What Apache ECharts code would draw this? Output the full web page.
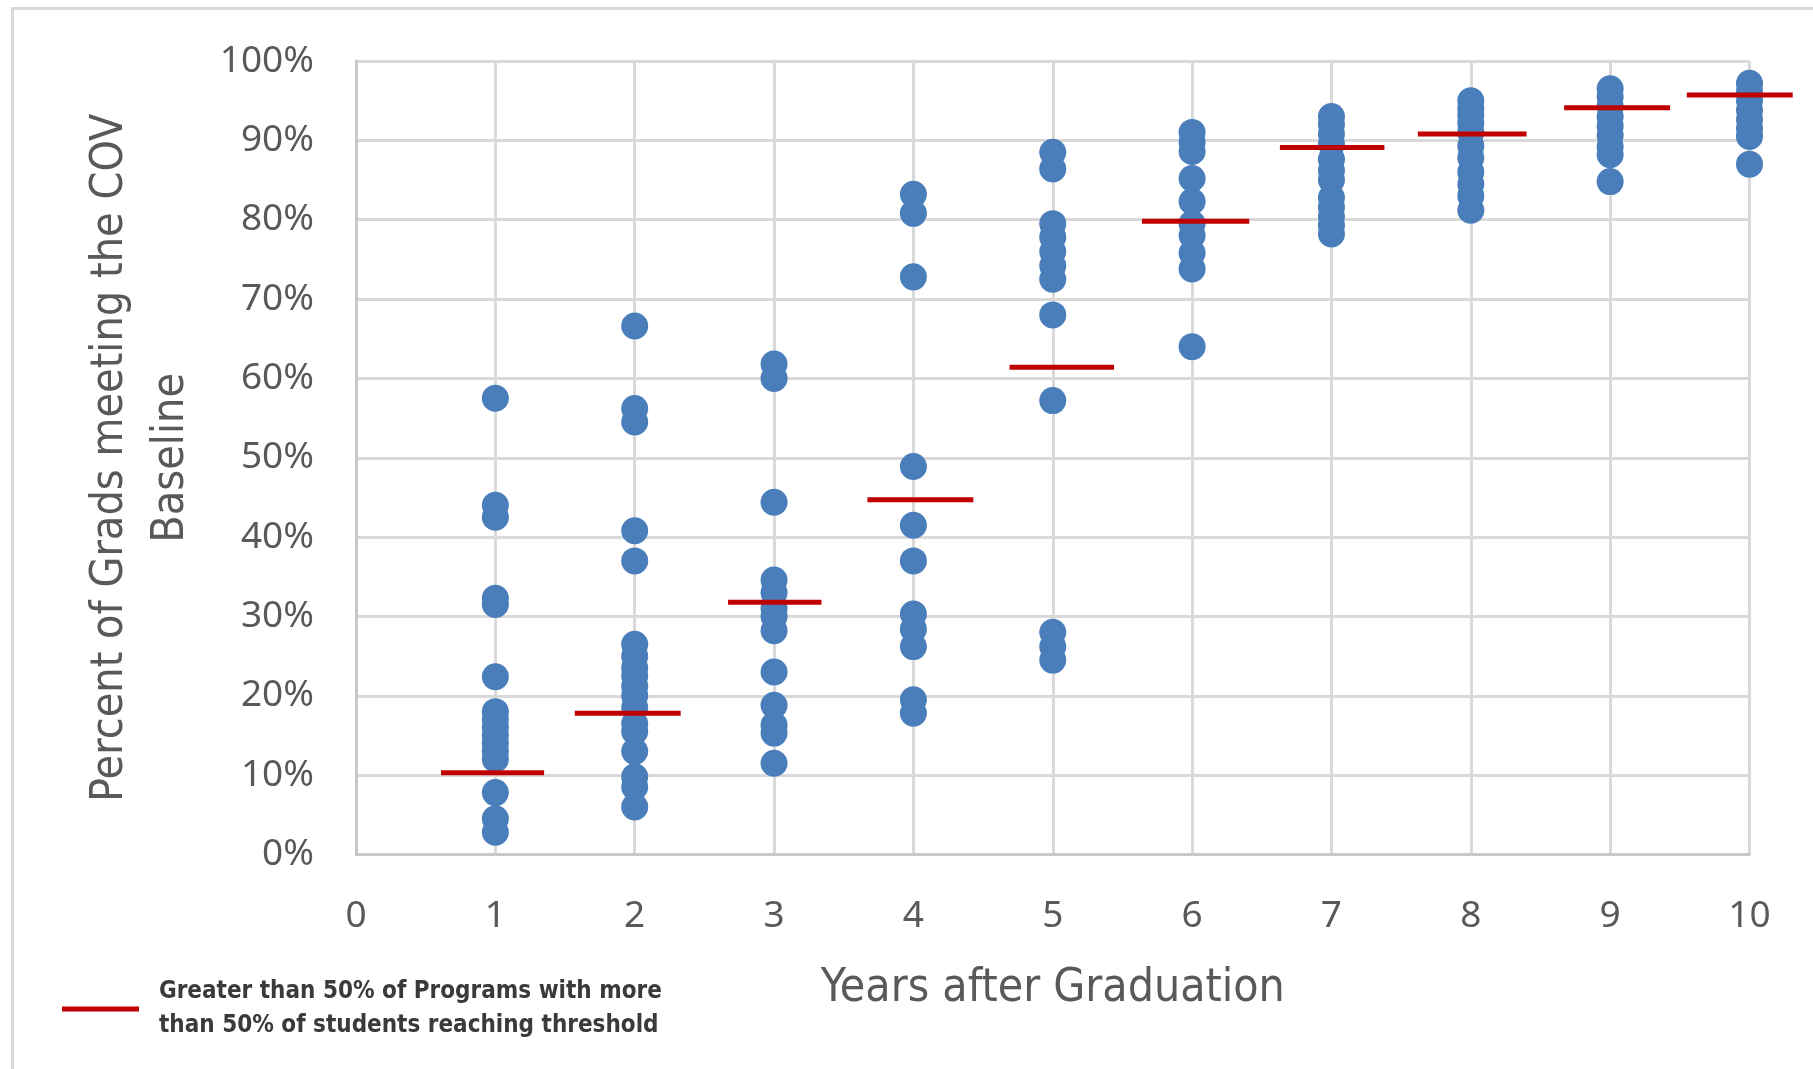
<!DOCTYPE html>
<html>
<head>
<meta charset="utf-8">
<script src="https://cdn.jsdelivr.net/npm/echarts@6/dist/echarts.min.js"></script>
<style>
html,body{margin:0;padding:0;background:#fff;}
#chart{width:1813px;height:1069px;}
</style>
</head>
<body>
<div id="chart"></div>
<script>
// Years after graduation (x) and percent of grads per program (y)
const years = [1, 2, 3, 4, 5, 6, 7, 8, 9, 10];
const year1 = [57.5, 44.0, 42.5, 32.3, 31.5, 22.4, 18.0, 17.0, 16.0, 15.0, 14.0, 13.0, 12.0, 7.8, 4.5, 2.8];
const year2 = [66.6, 56.2, 54.5, 40.8, 37.0, 26.5, 25.0, 23.5, 22.5, 21.2, 20.0, 18.5, 16.5, 15.5, 13.0, 9.8, 8.5, 6.0];
const year3 = [61.8, 60.0, 44.4, 34.6, 33.0, 31.0, 30.0, 28.2, 23.0, 18.8, 16.3, 15.3, 11.5];
const year4 = [83.2, 80.8, 72.8, 48.9, 41.5, 37.0, 30.3, 28.4, 26.2, 19.5, 17.8];
const year5 = [88.5, 86.4, 79.5, 77.8, 76.0, 74.2, 72.5, 68.0, 57.2, 28.0, 26.2, 24.5];
const year6 = [91.0, 89.8, 88.6, 85.2, 82.3, 79.5, 78.0, 75.8, 73.8, 64.0];
const year7 = [93.0, 92.0, 90.8, 89.5, 87.6, 86.2, 85.0, 82.8, 81.6, 80.4, 79.3, 78.2];
const year8 = [95.0, 94.0, 93.2, 92.2, 91.0, 89.3, 87.8, 86.0, 84.5, 83.0, 81.2];
const year9 = [96.5, 95.5, 94.3, 93.0, 91.8, 90.6, 89.2, 88.2, 84.8];
const year10 = [97.2, 96.2, 95.0, 93.8, 92.6, 91.5, 90.5, 87.0];
// Threshold markers (red lines): level and horizontal extent in years
const thresholdLevel = [10.3, 17.8, 31.8, 44.7, 61.4, 79.8, 89.1, 90.8, 94.1, 95.7];
const thresholdStart = [0.61, 1.57, 2.67, 3.67, 4.69, 5.64, 6.63, 7.62, 8.67, 9.55];
const thresholdEnd = [1.35, 2.33, 3.34, 4.43, 5.44, 6.41, 7.38, 8.40, 9.43, 10.31];
const xTicks = [0, 1, 2, 3, 4, 5, 6, 7, 8, 9, 10];
const yTicks = [0, 10, 20, 30, 40, 50, 60, 70, 80, 90, 100];
const legendLabel = 'Greater than 50% of Programs with more\nthan 50% of students reaching threshold';

const allYears = [year1, year2, year3, year4, year5, year6, year7, year8, year9, year10];
const scatterData = [];
allYears.forEach((vals, i) => vals.forEach(v => scatterData.push([years[i], v])));
const lineData = years.map((y, i) => [thresholdStart[i], thresholdEnd[i], thresholdLevel[i]]);

const grey = '#595959';
const narrow = "'Liberation Sans Narrow','DejaVu Sans Condensed','Noto Sans'";
const chart = echarts.init(document.getElementById('chart'), null, {renderer: 'canvas'});
chart.setOption({
  backgroundColor: '#ffffff',
  animation: false,
  graphic: [{
    type: 'rect', left: 10, top: 6, silent: true,
    shape: {x: 0, y: 0, width: 1830, height: 1090},
    style: {fill: 'none', stroke: '#d9d9d9', lineWidth: 3}
  }],
  grid: {left: 356, right: 63.5, top: 61, bottom: 214.5, containLabel: false},
  legend: {
    left: 57, top: 970, orient: 'vertical',
    itemWidth: 77, itemHeight: 5, itemGap: 0,
    data: [{name: 'threshold', icon: 'rect', itemStyle: {color: '#C00000'}}],
    formatter: () => legendLabel,
    textStyle: {fontFamily: narrow, fontWeight: 'bold', fontSize: 24, color: '#3a3a3a', lineHeight: 34, padding: [0, 0, 0, 15]}
  },
  xAxis: {
    type: 'value', min: xTicks[0], max: xTicks[xTicks.length - 1], interval: 1,
    name: 'Years after Graduation', nameLocation: 'middle', nameGap: 112,
    nameTextStyle: {fontFamily: narrow, fontSize: 46, color: grey},
    axisLine: {show: true, lineStyle: {color: '#c8c8c8', width: 3}},
    axisTick: {show: false},
    axisLabel: {margin: 43, fontFamily: 'Noto Sans', fontSize: 37, color: grey},
    splitLine: {show: true, lineStyle: {color: '#d9d9d9', width: 3}}
  },
  yAxis: {
    type: 'value', min: yTicks[0], max: yTicks[yTicks.length - 1], interval: 10,
    name: 'Percent of Grads meeting the COV\nBaseline', nameLocation: 'middle', nameRotate: 90, nameGap: 154,
    nameTextStyle: {fontFamily: narrow, fontSize: 44.5, color: grey, lineHeight: 61},
    axisLine: {show: true, lineStyle: {color: '#c8c8c8', width: 3}},
    axisTick: {show: false},
    axisLabel: {margin: 42, fontFamily: 'Noto Sans', fontSize: 37, color: grey, formatter: '{value}%'},
    splitLine: {show: true, lineStyle: {color: '#d9d9d9', width: 3}}
  },
  series: [{
    type: 'scatter', name: 'programs', data: scatterData,
    symbolSize: 27, itemStyle: {color: '#4A7EBB', opacity: 1}, z: 3
  }, {
    type: 'custom', name: 'threshold', data: lineData, z: 4, clip: false,
    encode: {x: [0, 1], y: 2},
    renderItem: (params, api) => {
      const p1 = api.coord([api.value(0), api.value(2)]);
      const p2 = api.coord([api.value(1), api.value(2)]);
      return {type: 'line', shape: {x1: p1[0], y1: p1[1], x2: p2[0], y2: p2[1]},
        style: {stroke: '#C00000', lineWidth: 5}};
    }
  }]
});
</script>
</body>
</html>
